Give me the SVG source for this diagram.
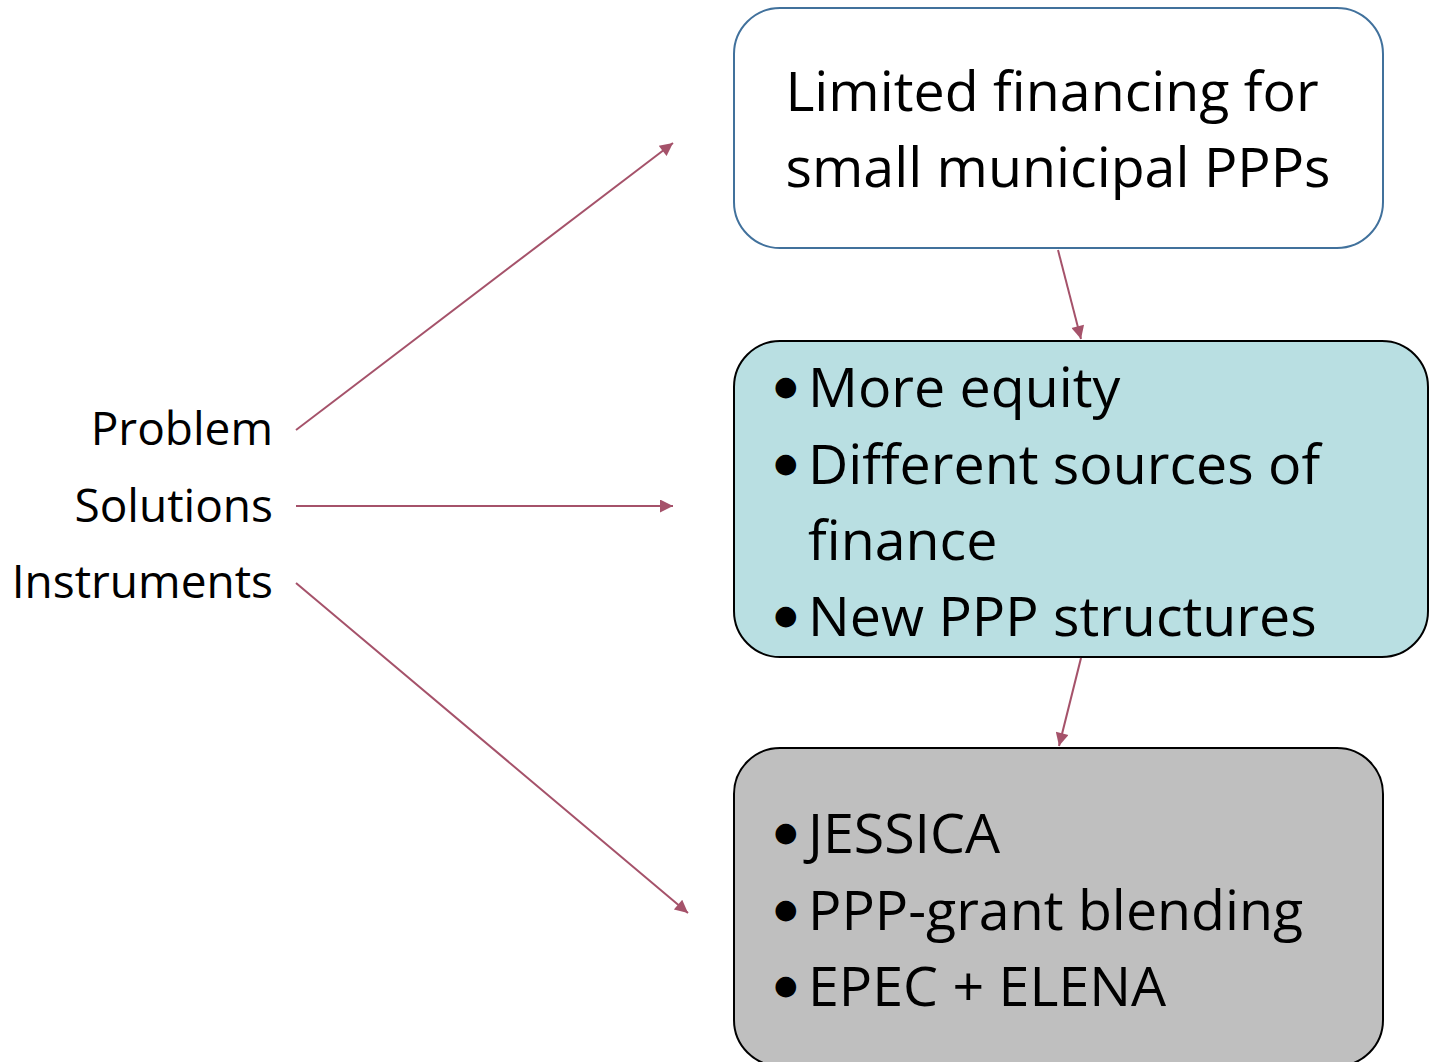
<svg xmlns="http://www.w3.org/2000/svg" width="1431" height="1062" viewBox="0 0 1431 1062">
  <defs>
    <style>
      .t { font-family: "Open Sans", "Noto Sans", "Liberation Sans", sans-serif; fill: #000; }
      .big { font-size: 55.5px; }
      .bul { font-family: "DejaVu Sans", sans-serif; font-size: 27px; }
      .lbl { font-size: 46px; text-anchor: end; }
      .conn { stroke: #a5526a; stroke-width: 2; fill: none; marker-end: url(#ah); }
    </style>
    <marker id="ah" viewBox="0 0 10 10" refX="10" refY="5" markerWidth="7.5" markerHeight="6.5" markerUnits="strokeWidth" orient="auto">
      <path d="M0,0 L10,5 L0,10 z" fill="#a5526a"/>
    </marker>
  </defs>
  <rect width="1431" height="1062" fill="#fff"/>

  <!-- side labels -->
  <g id="labels">
    <text class="t lbl" x="273" y="445">Problem</text>
    <text class="t lbl" x="273" y="522">Solutions</text>
    <text class="t lbl" x="273" y="598">Instruments</text>
  </g>

  <!-- problem box -->
  <g id="problem">
    <rect x="734" y="8" width="649" height="240" rx="46" fill="#fff" stroke="#41719c" stroke-width="2"/>
    <text class="t big" x="1052" y="111" text-anchor="middle">Limited financing for</text>
    <text class="t big" x="1058" y="187" text-anchor="middle">small municipal PPPs</text>
  </g>

  <!-- solutions box: each bullet line is one text, the dot drawn as a black circle glyph -->
  <g id="solutions">
    <rect x="734" y="341" width="694" height="316" rx="46" fill="#b9dfe2" stroke="#000" stroke-width="2"/>
    <text class="t big" x="774" y="407"><tspan class="bul" dy="-12">●</tspan><tspan x="808" dy="12">More equity</tspan></text>
    <text class="t big" x="774" y="484"><tspan class="bul" dy="-12">●</tspan><tspan x="808" dy="12">Different sources of</tspan></text>
    <text class="t big" x="808" y="560">finance</text>
    <text class="t big" x="774" y="636"><tspan class="bul" dy="-12">●</tspan><tspan x="808" dy="12">New PPP structures</tspan></text>
  </g>

  <!-- instruments box -->
  <g id="instruments">
    <rect x="734" y="748" width="649" height="318" rx="46" fill="#bfbfbf" stroke="#000" stroke-width="2"/>
    <text class="t big" x="774" y="853"><tspan class="bul" dy="-12">●</tspan><tspan x="808" dy="12">JESSICA</tspan></text>
    <text class="t big" x="774" y="930"><tspan class="bul" dy="-12">●</tspan><tspan x="808" dy="12">PPP-grant blending</tspan></text>
    <text class="t big" x="774" y="1006"><tspan class="bul" dy="-12">●</tspan><tspan x="808" dy="12">EPEC + ELENA</tspan></text>
  </g>

  <!-- connectors -->
  <g id="connectors">
    <line class="conn" x1="296" y1="430" x2="673" y2="143"/>
    <line class="conn" x1="296" y1="506" x2="673" y2="506"/>
    <line class="conn" x1="296" y1="583" x2="688" y2="913"/>
    <line class="conn" x1="1058" y1="250" x2="1081" y2="339"/>
    <line class="conn" x1="1081" y1="658" x2="1059" y2="746"/>
  </g>
</svg>
